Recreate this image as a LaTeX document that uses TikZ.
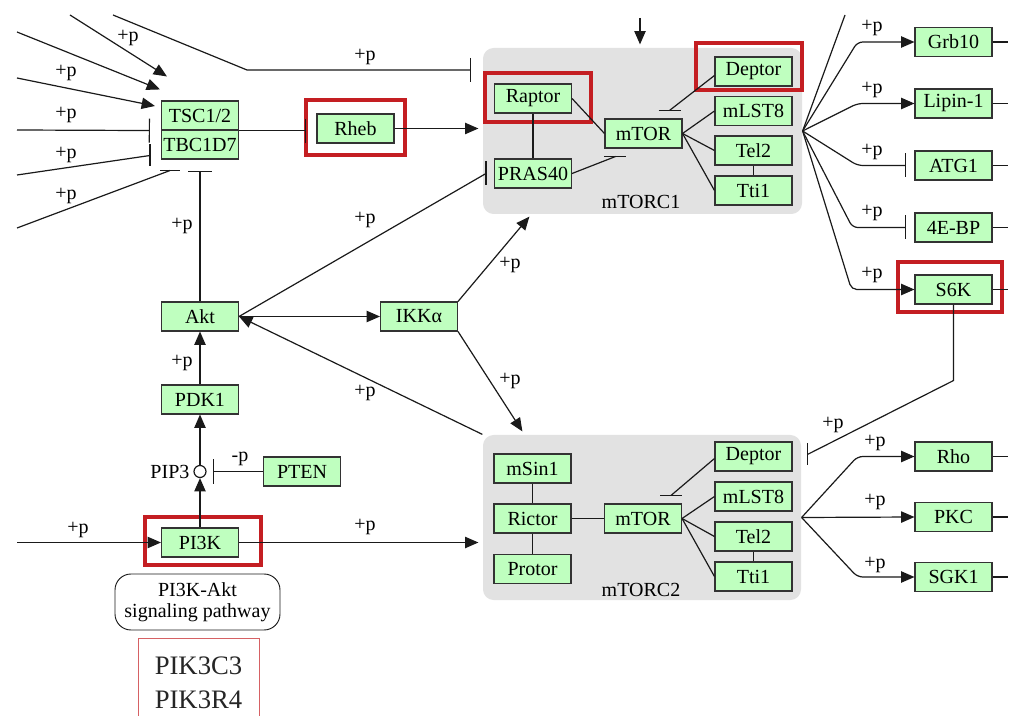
\documentclass[tikz,border=0pt]{standalone}
\usepackage{fontspec}
\setmainfont{Liberation Serif}
\usetikzlibrary{arrows.meta,calc}
\definecolor{kgreen}{HTML}{BFFFBF}
\definecolor{kred}{HTML}{C41E22}
\definecolor{kgrey}{HTML}{E2E2E2}
\definecolor{kline}{HTML}{1A1A1A}
\begin{document}
\begin{tikzpicture}[x=0.75pt,y=-0.75pt, line width=0.9pt, draw=kline,
  every node/.style={font=\fontsize{15}{17}\selectfont},
  gene/.style={draw=black!80, fill=kgreen, line width=0.8pt, minimum width=57.75pt, minimum height=21.75pt, inner sep=0pt},
  redbox/.style={draw=kred, line width=2.4pt, inner sep=0pt},
  cplx/.style={fill=kgrey, draw=none, rounded corners=8pt, inner sep=0pt},
  lbl/.style={inner sep=0pt},
  act/.style={-{Triangle[length=10pt,width=8.5pt]}},
  inh/.style={-{Bar[width=18pt]}},
  fan/.style={rounded corners=4pt}
]
\useasboundingbox (0,0) rectangle (1014,716);
\fill[white] (0,0) rectangle (1014,716);

% complexes
\node[cplx, minimum width=239.25pt, minimum height=124.5pt] (mtorc1) at (642.5,131) {};
\node[cplx, minimum width=238.5pt, minimum height=123.75pt] (mtorc2) at (642,517.5) {};

% red highlight boxes
\node[redbox, minimum width=74.25pt, minimum height=41.25pt] (rhebR) at (355.5,127.5) {};
\node[redbox, minimum width=79.5pt, minimum height=36.75pt] (raptorR) at (538,97.5) {};
\node[redbox, minimum width=79.5pt, minimum height=35.25pt] (deptorR) at (749,66.5) {};
\node[redbox, minimum width=78pt, minimum height=37.5pt] (s6kR) at (950,287) {};
\node[redbox, minimum width=87pt, minimum height=36pt] (pi3kR) at (203,541) {};

% genes
\node[gene] (tsc) at (200,115.5) {TSC1/2};
\node[gene] (tbc) at (200,144.5) {TBC1D7};
\node[gene] (rheb) at (355.5,128.5) {Rheb};
\node[gene] (raptor) at (533,98.5) {Raptor};
\node[gene] (pras) at (533,173.5) {PRAS40};
\node[gene] (mtorA) at (643.5,133.5) {mTOR};
\node[gene] (deptorA) at (753.5,71.5) {Deptor};
\node[gene] (mlstA) at (753.5,111) {mLST8};
\node[gene] (telA) at (753.5,150.5) {Tel2};
\node[gene] (ttiA) at (753.5,190.5) {Tti1};
\node[gene] (msin) at (532.5,468.5) {mSin1};
\node[gene] (rictor) at (532.5,518.5) {Rictor};
\node[gene] (protor) at (532.5,569) {Protor};
\node[gene] (mtorB) at (643,518.5) {mTOR};
\node[gene] (deptorB) at (753.5,456.5) {Deptor};
\node[gene] (mlstB) at (753.5,496.5) {mLST8};
\node[gene] (telB) at (753.5,536.5) {Tel2};
\node[gene] (ttiB) at (753.5,576.5) {Tti1};
\node[gene] (grb) at (953.5,42) {Grb10};
\node[gene] (lipin) at (953.5,103.5) {Lipin-1};
\node[gene] (atg) at (953.5,165.5) {ATG1};
\node[gene] (ebp) at (953.5,227.5) {4E-BP};
\node[gene] (s6k) at (953.5,289.5) {S6K};
\node[gene] (rho) at (953.5,456.5) {Rho};
\node[gene] (pkc) at (953.5,517) {PKC};
\node[gene] (sgk) at (953.5,577) {SGK1};
\node[gene] (akt) at (200,316.5) {Akt};
\node[gene] (pdk) at (200,399.5) {PDK1};
\node[gene] (ikk) at (419,316.5) {IKKα};
\node[gene] (pten) at (302,471.5) {PTEN};
\node[gene] (pi3k) at (200,542.5) {PI3K};
\node[circle, draw=kline, fill=white, minimum size=9pt, inner sep=0pt, line width=0.9pt] (pip3) at (200,471.5) {};
\node[lbl, anchor=east] (pip3lbl) at (190,471.5) {PIP3};
\node[draw=kline, rounded corners=12pt, minimum width=123.75pt, minimum height=42pt, align=center, inner sep=0pt, line width=0.7pt] (path) at (197.5,602) {PI3K-Akt\\[-1pt]signaling pathway};
\node[draw=kred!70, line width=0.7pt, minimum width=90.75pt, minimum height=66pt, anchor=north, align=center, inner sep=0pt, text=black!85, font=\fontsize{20}{25.5}\selectfont] (pik) at (198.5,638) {PIK3C3\\PIK3R4};

% complex labels
\node[lbl] (c1lbl) at (641,202) {mTORC1};
\node[lbl] (c2lbl) at (641,590) {mTORC2};

% inputs to TSC
\coordinate (i1) at (70,15);
\coordinate (i2) at (17,32);
\coordinate (i3) at (17,78);
\coordinate (i4) at (17,130);
\coordinate (i5) at (17,175);
\coordinate (i6) at (17,228);
\coordinate (i7) at (113,15);
\coordinate (k7) at (247,70);
\draw[act] (i1) -- ($(tsc.north west)+(6,-24)$);
\draw[act] (i2) -- ($(tsc.north west)+(-1,-11)$);
\draw[act] (i3) -- ($(tsc.west)+(-6,-9.5)$);
\draw[inh] (i4) -- ($(tsc.south west)+(-11,0)$);
\coordinate (b5) at ($(tbc.west)+(-11,11)$);
\draw (i5) -- (b5);
\draw ($(b5)+(0,-11)$) -- ($(b5)+(0,11)$);
\coordinate (b6) at ($(tbc.south)+(-30,11)$);
\draw (i6) -- (b6);
\draw ($(b6)+(-10,0)$) -- ($(b6)+(10,0)$);
\draw[inh] (i7) -- (k7) -- ($(mtorc1.west |- k7)+(-11,0)$);

% TSC -> Rheb -> mTORC1
\draw[inh] (tsc.south east) -- ($(rhebR.west |- tsc.south east)+(2,0)$);
\draw[act] (rheb.east) -- ($(mtorc1.west |- rheb.east)+(-4,0)$);
\coordinate (topin) at (640,18);
\draw[act] (topin) -- ($(mtorc1.north -| topin)+(0,-3)$);

% Akt
\draw[inh] (akt.north) -- ($(tbc.south)+(0,11)$);
\draw[act] (akt.east) -- (ikk.west);
\coordinate (bP) at ($(pras.west)+(-8,0)$);
\draw (akt.east) -- (bP);
\draw ($(bP)+(0,-12)$) -- ($(bP)+(0,12)$);
\draw[act] (mtorc2.north west) -- (akt.east);
\draw[act] (ikk.north east) -- ($(mtorc1.south west)+(47,2)$);
\draw[act] (ikk.south east) -- ($(mtorc2.north west)+(40,-3)$);

% PI3K chain
\draw[act] (pdk.north) -- (akt.south);
\draw[act] (pip3.north) -- (pdk.south);
\draw[act] (pi3k.north) -- (pip3.south);
\draw[inh] (pten.west) -- ($(pip3.east)+(6,0)$);
\coordinate (i8) at (17,542.5);
\draw[act] (i8) -- (pi3k.west);
\draw[act] (pi3k.east) -- ($(mtorc2.west |- pi3k.east)+(-4,0)$);

% mTORC1 internal
\draw (raptor.south) -- (pras.north);
\draw (raptor.east) -- (mtorA.west);
\coordinate (bDA) at ($(mtorA.north)+(26,-8)$);
\draw ($(deptorA.west)+(0,4)$) -- (bDA);
\draw ($(bDA)+(-11,0)$) -- ($(bDA)+(11,0)$);
\coordinate (bPA) at ($(mtorA.south west)+(11,8)$);
\draw (pras.east) -- (bPA);
\draw ($(bPA)+(-11,0)$) -- ($(bPA)+(11,0)$);
\draw (mtorA.east) -- (mlstA.west);
\draw (mtorA.east) -- (telA.west);
\draw (mtorA.east) -- (ttiA.west);
\draw (telA.south) -- (ttiA.north);

% mTORC2 internal
\draw (msin.south) -- (rictor.north);
\draw (rictor.south) -- (protor.north);
\draw (rictor.east) -- (mtorB.west);
\coordinate (bDB) at ($(mtorB.north)+(28,-8)$);
\draw ($(deptorB.west)+(0,2)$) -- (bDB);
\draw ($(bDB)+(-11,0)$) -- ($(bDB)+(11,0)$);
\draw (mtorB.east) -- (mlstB.west);
\draw (mtorB.east) -- (telB.west);
\draw (mtorB.east) -- (ttiB.west);
\draw (telB.south) -- (ttiB.north);

% mTORC1 fan
\coordinate (up) at (845,15);
\draw (mtorc1.east) -- (up);
\draw[act, fan] (mtorc1.east) -- ($(grb.west)+(-57,0)$) -- (grb.west);
\draw[act, fan] (mtorc1.east) -- ($(lipin.west)+(-57,0)$) -- (lipin.west);
\draw[inh, fan] (mtorc1.east) -- ($(atg.west)+(-57,0)$) -- ($(atg.west)+(-8,0)$);
\draw[inh, fan] (mtorc1.east) -- ($(ebp.west)+(-62,0)$) -- ($(ebp.west)+(-8,0)$);
\draw[act, fan] (mtorc1.east) -- ($(s6k.west)+(-63,0)$) -- (s6k.west);
\foreach \g in {grb,lipin,atg,ebp,s6k,rho,pkc,sgk} { \draw (\g.east) -- +(15,0); }

% S6K -> mTORC2
\coordinate (sb) at ($(s6k.south)+(0,76)$);
\coordinate (b9) at ($(mtorc2.north east)+(6,20)$);
\draw (s6k.south) -- (sb) -- (b9);
\draw ($(b9)+(0,-11)$) -- ($(b9)+(0,11)$);

% mTORC2 fan
\draw[act, fan] (mtorc2.east) -- ($(rho.west)+(-57,0)$) -- (rho.west);
\draw[act] (mtorc2.east) -- (pkc.west);
\draw[act, fan] (mtorc2.east) -- ($(sgk.west)+(-57,0)$) -- (sgk.west);

% labels
\node[lbl] (p1) at (128,38) {+p};
\node[lbl] (p2) at (66,73) {+p};
\node[lbl] (p3) at (66,115) {+p};
\node[lbl] (p4) at (66,155) {+p};
\node[lbl] (p5) at (66,196) {+p};
\node[lbl] (p6) at (365,57) {+p};
\node[lbl] (p7) at (182,226) {+p};
\node[lbl] (p8) at (365,220) {+p};
\node[lbl] (p9) at (510,265) {+p};
\node[lbl] (p10) at (510,381) {+p};
\node[lbl] (p11) at (365,393) {+p};
\node[lbl] (p12) at (182,363) {+p};
\node[lbl] (p13) at (78,530) {+p};
\node[lbl] (p14) at (365,527) {+p};
\node[lbl] (m1) at (240,459) {-p};
\node[lbl] (p15) at (872,28) {+p};
\node[lbl] (p16) at (872,90) {+p};
\node[lbl] (p17) at (872,152) {+p};
\node[lbl] (p18) at (872,213) {+p};
\node[lbl] (p19) at (872,275) {+p};
\node[lbl] (p20) at (833,425) {+p};
\node[lbl] (p21) at (875,443) {+p};
\node[lbl] (p22) at (875,502) {+p};
\node[lbl] (p23) at (875,565) {+p};
\end{tikzpicture}
\end{document}
